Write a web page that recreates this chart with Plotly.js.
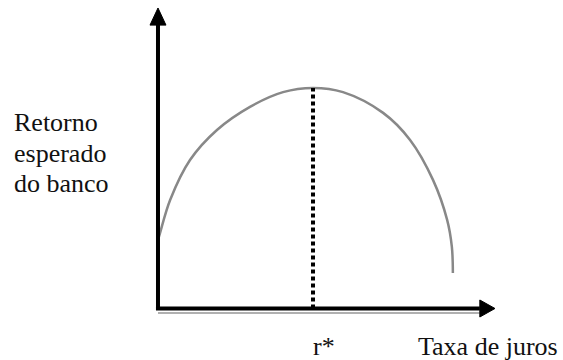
<!DOCTYPE html>
<html>
<head>
<meta charset="utf-8">
<script src="https://cdn.plot.ly/plotly-3.0.1.min.js"></script>
<style>
html,body{margin:0;padding:0;background:#fff;}
</style>
</head>
<body>
<div id="chart"></div>
<script>
// Data (arbitrary units: interest rate on x, expected bank return on y)
const rate       = [0, 0.06, 0.36, 0.95, 1.75, 2.73, 3.71, 4.6, 5.49, 6.68, 7.48, 8.16, 8.58, 8.72, 8.75];
const bankReturn = [2.28, 2.51, 3.61, 4.94, 5.94, 6.71, 7.2, 7.34, 7.2, 6.51, 5.61, 4.28, 2.95, 2.05, 1.18];
const rStar = 4.6;
const peakReturn = 7.34;
const yLabelLines = ['Retorno', 'esperado', 'do banco'];
const xLabel = 'Taxa de juros';
const rStarLabel = 'r*';

// Axis extents in data units
const xAxisEnd = 10, yAxisEnd = 10;
const xRange = [-4.688, 12.018];
const yRange = [-1.714, 10.266];

const curve = {
  x: rate, y: bankReturn, mode: 'lines', type: 'scatter',
  line: {color: '#888888', width: 2.5, shape: 'spline', smoothing: 1},
  hoverinfo: 'skip'
};
const dotted = {
  x: [rStar, rStar], y: [0, peakReturn], mode: 'lines', type: 'scatter',
  line: {color: '#000', width: 4, dash: '4px,3px'},
  hoverinfo: 'skip'
};

const headX = 0.45, headHalfY = 0.283; // right arrow head
const headY = 0.57, headHalfX = 0.237; // top arrow head
const shapes = [
  {type: 'line', xref: 'x', yref: 'y', x0: 0, y0: -0.15, x1: xAxisEnd - headX, y1: -0.15,
   line: {color: '#b0b0b0', width: 2}, layer: 'above'},
  {type: 'line', xref: 'x', yref: 'y', x0: -0.06, y0: 0, x1: xAxisEnd - headX, y1: 0,
   line: {color: '#000', width: 4}, layer: 'above'},
  {type: 'line', xref: 'x', yref: 'y', x0: 0, y0: 0, x1: 0, y1: yAxisEnd - headY,
   line: {color: '#000', width: 4}, layer: 'above'},
  {type: 'path', xref: 'x', yref: 'y', layer: 'above',
   path: `M ${xAxisEnd} 0 L ${xAxisEnd - headX} ${headHalfY} L ${xAxisEnd - headX} ${-headHalfY} Z`,
   fillcolor: '#000', line: {color: '#000', width: 1}},
  {type: 'path', xref: 'x', yref: 'y', layer: 'above',
   path: `M 0 ${yAxisEnd} L ${-headHalfX} ${yAxisEnd - headY} L ${headHalfX} ${yAxisEnd - headY} Z`,
   fillcolor: '#000', line: {color: '#000', width: 1}}
];

function labelFont() { return {family: 'Liberation Serif', size: 26, color: '#111'}; }
const labelCentersPx = [122, 153, 183];
const annotations = yLabelLines.map((t, i) => ({
  text: t, xref: 'paper', yref: 'paper', x: 12 / 563, y: 1 - labelCentersPx[i] / 360,
  xanchor: 'left', yanchor: 'middle', showarrow: false, font: labelFont()
}));
annotations.push({
  text: rStarLabel, xref: 'x', yref: 'paper', x: rStar, y: 1 - 346 / 360,
  xanchor: 'left', yanchor: 'middle', showarrow: false, font: labelFont(), xshift: -2
});
annotations.push({
  text: xLabel, xref: 'paper', yref: 'paper', x: 416 / 563, y: 1 - 346 / 360,
  xanchor: 'left', yanchor: 'middle', showarrow: false, font: labelFont()
});

const layout = {
  width: 563, height: 360,
  margin: {l: 0, r: 0, t: 0, b: 0, pad: 0},
  paper_bgcolor: '#fff', plot_bgcolor: '#fff',
  showlegend: false,
  font: {family: 'Liberation Serif', size: 26, color: '#111'},
  xaxis: {range: xRange, visible: false, fixedrange: true},
  yaxis: {range: yRange, visible: false, fixedrange: true},
  shapes: shapes,
  annotations: annotations
};

Plotly.newPlot('chart', [curve, dotted], layout, {displayModeBar: false, staticPlot: true});
</script>
</body>
</html>
